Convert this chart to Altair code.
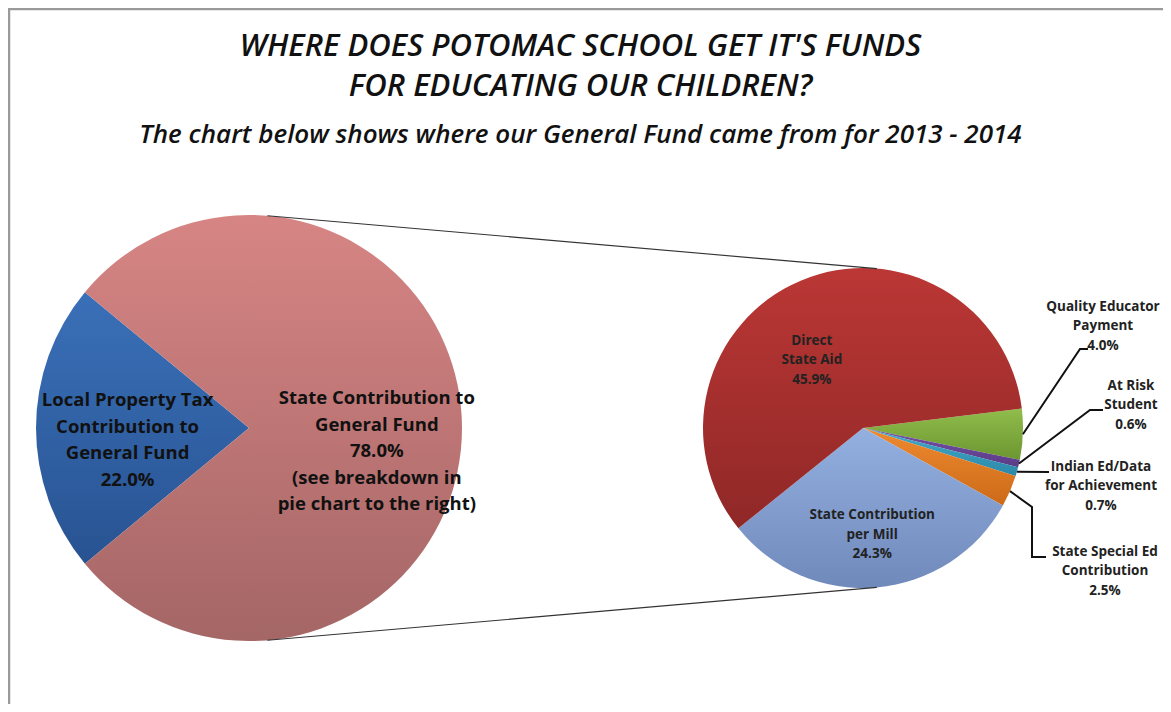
import math
import altair as alt
import pandas as pd

# ---------------- data ----------------
TITLE_LINES = ["WHERE DOES POTOMAC SCHOOL GET IT'S FUNDS", "FOR EDUCATING OUR CHILDREN?"]
SUBTITLE = "The  chart below shows where our General Fund came from for 2013 - 2014"

main_categories = ["Local Property Tax Contribution to General Fund",
                   "State Contribution to General Fund"]
main_values = [22.0, 78.0]
main_labels = ["Local Property Tax\nContribution to\nGeneral Fund\n22.0%",
               "State Contribution to\nGeneral Fund\n78.0%\n(see breakdown in\npie chart to the right)"]

sub_categories = ["Quality Educator Payment", "At Risk Student",
                  "Indian Ed/Data for Achievement", "State Special Ed Contribution",
                  "State Contribution per Mill", "Direct State Aid"]
sub_values = [4.0, 0.6, 0.7, 2.5, 24.3, 45.9]
sub_labels = ["Quality Educator\nPayment\n4.0%", "At Risk\nStudent\n0.6%",
              "Indian Ed/Data\nfor Achievement\n0.7%", "State Special Ed\nContribution\n2.5%",
              "State Contribution\nper Mill\n24.3%", "Direct\nState Aid\n45.9%"]

# ---------------- layout & style ----------------
W, H = 1155, 696
C1, R1 = (241.0, 420.0), 213.0
C2, R2 = (855.0, 420.0), 160.0
MAIN_START = 270.0 - main_values[0] / sum(main_values) * 360.0 / 2.0
SUB_START = 83.0

MAIN_FS, MAIN_LH = 18.5, 26.5
SUB_FS, SUB_LH = 13.5, 19.5

main_grad = [("#3a70b8", "#285392"), ("#d68584", "#a56666")]
sub_grad = [("#90bd4c", "#6c9630"), ("#7650a6", "#5a3c86"), ("#44abcc", "#2c88a8"),
            ("#ee8a30", "#cc6a18"), ("#93b0e0", "#7089bb"), ("#bb3735", "#8f2827")]

# inside labels: (radius fraction, dx, dy); outside: None
main_lab_layout = [(0.57, 0, 12), (0.60, 0, 23)]
sub_lab_layout = [None, None, None, None, (0.67, 0, 0), (0.50, -20, 6)]
# outside label centres relative to C2, and leader-line bend points relative to C2
out_label_off = {0: (240, -102), 1: (268, -23), 2: (238, 58), 3: (242, 143)}
leader_bends = {0: [(217, -79), (225, -79)], 1: [(227, -18), (240, -18)],
                2: [(186, 44)], 3: [(169, 79), (169, 129), (183, 129)]}


def grad(top, bottom):
    return {"gradient": "linear", "x1": 0, "y1": 0, "x2": 0, "y2": 1,
            "stops": [{"offset": 0, "color": top}, {"offset": 1, "color": bottom}]}


def fill_enc(cats, grads):
    return {"condition": [{"test": "datum.cat === '%s'" % c, "value": grad(*g)}
                          for c, g in zip(cats[:-1], grads[:-1])],
            "value": grad(*grads[-1])}


def mid_angles(values, start):
    tot = sum(values)
    out, cum = [], 0.0
    for v in values:
        out.append(math.radians(start + (cum + v / 2.0) / tot * 360.0))
        cum += v
    return out


def polar(c, r, a):
    return c[0] + r * math.sin(a), c[1] - r * math.cos(a)


def first_line_y(label, centre_y, lh):
    # multi-line text is anchored at its first line; centre the block instead
    n = label.count("\n") + 1
    return centre_y - (n - 1) * lh / 2.0


xs = alt.Scale(domain=[0, W], range=[0, W], nice=False, zero=False)
ys = alt.Scale(domain=[0, H], range=[0, H], nice=False, zero=False)
X = lambda f: alt.X(f, type="quantitative", scale=xs, axis=None)
Y = lambda f: alt.Y(f, type="quantitative", scale=ys, axis=None)

# ---------------- pies ----------------
main_df = pd.DataFrame({"cat": main_categories, "value": main_values,
                        "idx": range(len(main_values)), "cx": C1[0], "cy": C1[1]})
sub_df = pd.DataFrame({"cat": sub_categories, "value": sub_values,
                       "idx": range(len(sub_values)), "cx": C2[0], "cy": C2[1]})


def pie(df, start, radius, cats, grads):
    a0 = math.radians(start)
    return alt.Chart(df).mark_arc(radius=radius).encode(
        x=X("cx"), y=Y("cy"),
        theta=alt.Theta("value:Q", stack=True, scale=alt.Scale(range=[a0, a0 + 2 * math.pi])),
        order=alt.Order("idx:Q"),
        fill=fill_enc(cats, grads),
    )


main_pie = pie(main_df, MAIN_START, R1, main_categories, main_grad)
sub_pie = pie(sub_df, SUB_START, R2, sub_categories, sub_grad)

# ---------------- connector lines (external tangents) ----------------
alpha = math.asin((R1 - R2) / (C2[0] - C1[0]))
conn_rows = []
for k, sgn in (("top", -1), ("bottom", 1)):
    conn_rows.append({"k": k, "x": C1[0] + R1 * math.sin(alpha), "y": C1[1] + sgn * R1 * math.cos(alpha),
                      "x2": C2[0] + R2 * math.sin(alpha), "y2": C2[1] + sgn * R2 * math.cos(alpha)})
conn = alt.Chart(pd.DataFrame(conn_rows)).mark_rule(color="#333333", strokeWidth=1.1).encode(
    x=X("x"), y=Y("y"), x2="x2:Q", y2="y2:Q")

# ---------------- labels ----------------
main_mid = mid_angles(main_values, MAIN_START)
sub_mid = mid_angles(sub_values, SUB_START)

main_lab_rows = []
for lab, a, (rf, dx, dy) in zip(main_labels, main_mid, main_lab_layout):
    px, py = polar(C1, rf * R1, a)
    main_lab_rows.append({"label": lab, "x": px + dx, "y": first_line_y(lab, py + dy, MAIN_LH)})

sub_lab_rows, leader_rows = [], []
for i, (lab, a, lay) in enumerate(zip(sub_labels, sub_mid, sub_lab_layout)):
    if lay is not None:
        rf, dx, dy = lay
        px, py = polar(C2, rf * R2, a)
        sub_lab_rows.append({"label": lab, "x": px + dx, "y": first_line_y(lab, py + dy, SUB_LH)})
    else:
        ox, oy = out_label_off[i]
        sub_lab_rows.append({"label": lab, "x": C2[0] + ox,
                             "y": first_line_y(lab, C2[1] + oy, SUB_LH)})
        ex, ey = polar(C2, R2, a)
        leader_rows.append({"seg": lab, "k": 0, "x": ex, "y": ey})
        for j, (bx, by) in enumerate(leader_bends[i]):
            leader_rows.append({"seg": lab, "k": j + 1, "x": C2[0] + bx, "y": C2[1] + by})

leaders = alt.Chart(pd.DataFrame(leader_rows)).mark_line(color="#111111", strokeWidth=2).encode(
    x=X("x"), y=Y("y"), detail="seg:N", order="k:Q")

main_text = alt.Chart(pd.DataFrame(main_lab_rows)).mark_text(
    font="Open Sans", fontWeight="bold", fontSize=MAIN_FS, lineBreak="\n", lineHeight=MAIN_LH,
    align="center", baseline="middle", color="#111111").encode(
    x=X("x"), y=Y("y"), text="label:N")

sub_text = alt.Chart(pd.DataFrame(sub_lab_rows)).mark_text(
    font="Open Sans", fontWeight="bold", fontSize=SUB_FS, lineBreak="\n", lineHeight=SUB_LH,
    align="center", baseline="middle", color="#222222").encode(
    x=X("x"), y=Y("y"), text="label:N")

# ---------------- titles & frame ----------------
def title_text(txt, ypos, size):
    return alt.Chart(pd.DataFrame({"t": [txt]})).mark_text(
        font="Open Sans", fontStyle="italic", fontWeight=600, fontSize=size, align="center",
        baseline="middle", color="#111111").encode(
        x=alt.value(W / 2 - 5), y=alt.value(ypos), text="t:N")

t1 = title_text(TITLE_LINES[0], 39, 31)
t2 = title_text(TITLE_LINES[1], 79, 31)
t3 = title_text(SUBTITLE, 127, 26)

frame_top = alt.Chart(pd.DataFrame({"a": [0]})).mark_rule(color="#9a9a9a", strokeWidth=2.5).encode(
    x=alt.value(0), x2=alt.value(W), y=alt.value(1))
frame_left = alt.Chart(pd.DataFrame({"a": [0]})).mark_rule(color="#9a9a9a", strokeWidth=2.5).encode(
    x=alt.value(1), y=alt.value(0), y2=alt.value(H))

chart = alt.layer(
    main_pie, sub_pie, conn, leaders, main_text, sub_text, t1, t2, t3, frame_top, frame_left
).resolve_scale(theta="independent").properties(
    width=W, height=H, autosize=alt.AutoSizeParams(type="none"), padding=0,
    background="white",
).configure_view(stroke=None)

chart.save("out.html", embed_options={"renderer": "svg", "actions": False})
